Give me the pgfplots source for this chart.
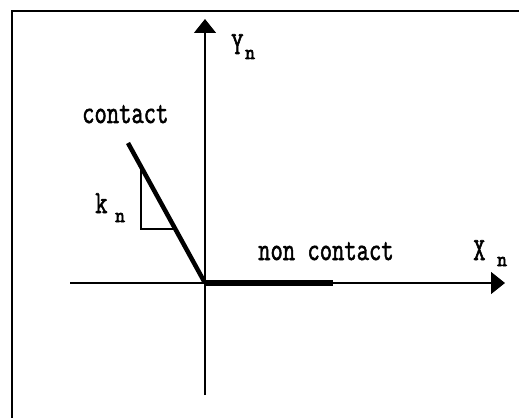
\documentclass[border=0pt]{standalone}
\usepackage{pgfplots}
\pgfplotsset{compat=1.18}
\usepackage{fontspec}
\usepackage{graphicx}
\usetikzlibrary{arrows.meta}
\newfontfamily\cour[BoldFont=*, BoldFeatures={FakeBold=2}]{Latin Modern Mono}
\newfontfamily\courb[BoldFont=*, BoldFeatures={FakeBold=3.5}]{Latin Modern Mono}

\newcommand{\lbl}[1]{\scalebox{1}[1.35]{\fontsize{24}{24}\selectfont\cour\bfseries #1}}
\newcommand{\sub}[1]{\scalebox{1}[1.1]{\fontsize{19}{19}\selectfont\courb\bfseries #1}}

\begin{document}
\begin{tikzpicture}
\begin{axis}[
    width=519bp, height=418bp,
    scale only axis,
    axis line style={draw=none},
    xtick=\empty, ytick=\empty,
    xmin=0, xmax=519,
    ymin=0, ymax=418,
    y dir=reverse,
    clip=true,
    axis background/.style={fill=white},
]
% frame
\addplot[black, line width=2.4bp] coordinates {(12,418) (12,11) (519,11)};
% axes
\addplot[black, line width=1.3bp, -{Triangle[length=14bp,width=22bp]}] coordinates {(70,283) (505,283)};
\addplot[black, line width=1.3bp, -{Triangle[length=14bp,width=22bp]}] coordinates {(205,395) (205,19)};
% contact branch
\addplot[black, line width=4.5bp] coordinates {(128,143) (205,283)};
% non contact branch
\addplot[black, line width=5.5bp] coordinates {(205,283) (333,283)};
% slope triangle
\addplot[black, line width=1.3bp] coordinates {(141,167) (141,229) (174,229)};

\node[anchor=base west, inner sep=0pt] at (axis cs:82,123) {\lbl{contact}};
\node[anchor=base west, inner sep=0pt] at (axis cs:258,260) {\lbl{non contact}};
\node[anchor=base west, inner sep=0pt] at (axis cs:95,213) {\lbl{k}};
\node[anchor=base west, inner sep=0pt] at (axis cs:115,222) {\sub{n}};
\node[anchor=base west, inner sep=0pt] at (axis cs:473,260) {\lbl{X}};
\node[anchor=base west, inner sep=0pt] at (axis cs:497,266) {\sub{n}};
\node[anchor=base west, inner sep=0pt] at (axis cs:231,54) {\lbl{Y}};
\node[anchor=base west, inner sep=0pt] at (axis cs:245,59) {\sub{n}};
\end{axis}
\end{tikzpicture}
\end{document}
